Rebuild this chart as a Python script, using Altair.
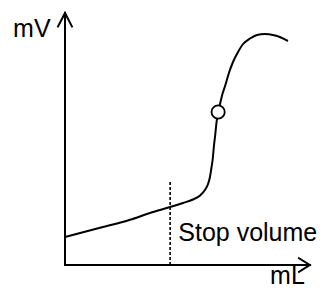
import altair as alt
import pandas as pd

# Titration curve (schematic): volume (mL) vs potential (mV)
curve_ml = [0, 1.46, 2.71, 3.54, 4.38, 4.92, 5.33, 5.63, 5.83, 5.96, 6.04, 6.10, 6.15,
            6.21, 6.25, 6.31, 6.38, 6.46, 6.56, 6.67, 6.83, 7.0, 7.21, 7.42, 7.71, 8.0,
            8.33, 8.67, 9.0, 9.29]
curve_mv = [11.2, 14.9, 18.1, 20.8, 23.2, 24.8, 26.2, 27.8, 30.0, 32.4, 35.2, 38.8, 42.0,
            48.0, 51.2, 56.8, 61.2, 64.4, 68.4, 71.6, 76.8, 81.2, 85.2, 88.4, 90.6, 92.0,
            92.4, 92.0, 91.0, 89.6]

endpoint_ml = [6.38]
endpoint_mv = [61.2]

stop_ml = [4.38, 4.38]
stop_mv = [0, 33.2]

# axes with arrowheads
axis_x_ml = [0, 10.2]
axis_x_mv = [0, 0]
axis_y_ml = [0, 0]
axis_y_mv = [0, 100.8]
arrow_y_ml = [-0.29, 0, 0.29]
arrow_y_mv = [95.4, 100.8, 95.4]
arrow_x_ml = [9.75, 10.2, 9.75]
arrow_x_mv = [2.7, 0, -2.7]

label_text = ["mV", "mL", "Stop volume"]
label_ml = [-0.6, 9.27, 4.72]
label_mv = [91.2, -7.4, 9.6]
label_align = ["right", "center", "left"]

# plot area spans page pixels x 8..320, y 8..287
xs = alt.Scale(domain=[-2.375, 10.625], nice=False, zero=False)
ys = alt.Scale(domain=[-8.8, 102.8], nice=False, zero=False)

def X():
    return alt.X("ml:Q", scale=xs, axis=None)

def Y():
    return alt.Y("mv:Q", scale=ys, axis=None)

curve = pd.DataFrame({"ml": curve_ml, "mv": curve_mv, "o": list(range(len(curve_ml)))})
axes = pd.DataFrame({
    "ml": axis_x_ml + axis_y_ml + arrow_y_ml + arrow_x_ml,
    "mv": axis_x_mv + axis_y_mv + arrow_y_mv + arrow_x_mv,
    "g": ["x"] * 2 + ["y"] * 2 + ["ay"] * 3 + ["ax"] * 3,
    "o": [0, 1, 0, 1, 0, 1, 2, 0, 1, 2],
})
stop = pd.DataFrame({"ml": stop_ml, "mv": stop_mv})
pt = pd.DataFrame({"ml": endpoint_ml, "mv": endpoint_mv})
labels = pd.DataFrame({"t": label_text, "ml": label_ml, "mv": label_mv, "a": label_align})

axis_layer = alt.Chart(axes).mark_line(color="black", strokeWidth=2, strokeCap="square").encode(
    x=X(), y=Y(), detail="g:N", order="o:Q")
curve_layer = alt.Chart(curve).mark_line(color="black", strokeWidth=2, interpolate="monotone").encode(
    x=X(), y=Y(), order="o:Q")
stop_layer = alt.Chart(stop).mark_line(color="black", strokeWidth=1.6, strokeDash=[3, 2]).encode(
    x=X(), y=Y())
pt_layer = alt.Chart(pt).mark_point(shape="circle", size=175, filled=True, fill="white",
                                    stroke="black", strokeWidth=1.8, opacity=1).encode(x=X(), y=Y())

text_layers = []
for a in ["right", "center", "left"]:
    text_layers.append(
        alt.Chart(labels[labels["a"] == a]).mark_text(
            align=a, baseline="alphabetic", fontSize=25, font="Liberation Sans", color="black"
        ).encode(x=X(), y=Y(), text="t:N")
    )

chart = alt.layer(axis_layer, stop_layer, curve_layer, pt_layer, *text_layers).properties(
    width=312, height=279, padding=0, autosize=alt.AutoSizeParams(type="none")
).configure_view(stroke=None)

chart.save("out.html", embed_options={"renderer": "svg", "actions": False})
